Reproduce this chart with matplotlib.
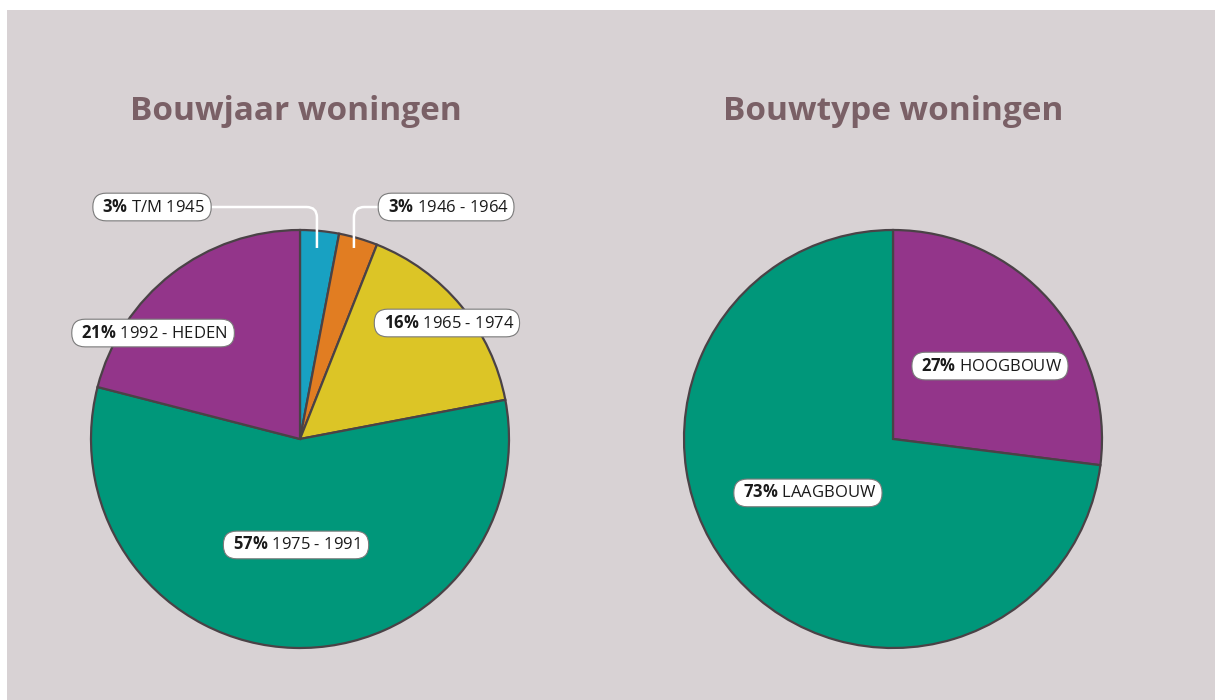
import matplotlib.pyplot as plt
from matplotlib.patches import Rectangle, PathPatch
from matplotlib.path import Path

plt.rcParams['font.family'] = ['Open Sans', 'DejaVu Sans']
plt.rcParams['mathtext.fontset'] = 'custom'
plt.rcParams['mathtext.rm'] = 'Open Sans'
plt.rcParams['mathtext.bf'] = 'Open Sans:bold'

# data
year_labels = ["T/M 1945", "1946 - 1964", "1965 - 1974", "1975 - 1991", "1992 - HEDEN"]
year_pct = [3, 3, 16, 57, 21]
type_labels = ["HOOGBOUW", "LAAGBOUW"]
type_pct = [27, 73]

year_colors = ["#18a1c2", "#e17d22", "#dcc526", "#00977a", "#93358a"]
type_colors = ["#93358a", "#00977a"]
bg = "#d8d2d4"
edge = "#4a4246"
title_color = "#7a6066"

fig = plt.figure(figsize=(12.15, 7), dpi=100)
fig.patch.set_facecolor("white")
fig.patches.append(Rectangle((7 / 1215, 0), 1, 690 / 700, transform=fig.transFigure,
                             facecolor=bg, edgecolor="none", zorder=-10))

R = 209


def pie_axes(cx, cy):
    ax = fig.add_axes([(cx - R) / 1215, (700 - cy - R) / 700, 2 * R / 1215, 2 * R / 700])
    ax.axis("off")
    return ax


def fix_limits(ax):
    ax.set_xlim(-1, 1)
    ax.set_ylim(-1, 1)
    ax.set_aspect("equal")


def label(ax, x, y, pct, text):
    ax.text(x, y, r" $\mathbf{%d\%%}$ %s " % (pct, text), ha="center", va="center",
            fontsize=12, color="#1a1a1a", zorder=10,
            bbox=dict(boxstyle="round,pad=0.32,rounding_size=0.8", fc="white",
                      ec="#7a7a7a", lw=0.8))


def leader(ax, x0, y0, x1, y1, r=0.05):
    # horizontal from (x0,y0) to x1, rounded corner, then down to y1
    sgn = 1 if x1 > x0 else -1
    verts = [(x0, y0), (x1 - sgn * r, y0), (x1, y0), (x1, y0 - r), (x1, y1)]
    codes = [Path.MOVETO, Path.LINETO, Path.CURVE3, Path.CURVE3, Path.LINETO]
    ax.add_patch(PathPatch(Path(verts, codes), fc="none", ec="white", lw=1.8,
                           zorder=5, clip_on=False))


# left pie
ax1 = pie_axes(300, 439)
ax1.pie(year_pct, colors=year_colors, startangle=90, counterclock=False, radius=1,
        wedgeprops=dict(edgecolor=edge, linewidth=1.6))
fix_limits(ax1)
pos1 = [(-0.708, 1.110), (0.699, 1.110), (0.703, 0.555), (-0.019, -0.507), (-0.703, 0.507)]
for (x, y), p, t in zip(pos1, year_pct, year_labels):
    label(ax1, x, y, p, t)
leader(ax1, -0.708, 1.110, 0.081, 0.914)
leader(ax1, 0.699, 1.110, 0.258, 0.914)

# right pie
ax2 = pie_axes(893, 439)
ax2.pie(type_pct, colors=type_colors, startangle=90, counterclock=False, radius=1,
        wedgeprops=dict(edgecolor=edge, linewidth=1.6))
fix_limits(ax2)
pos2 = [(0.464, 0.349), (-0.407, -0.258)]
for (x, y), p, t in zip(pos2, type_pct, type_labels):
    label(ax2, x, y, p, t)

fig.text(296 / 1215, 1 - 112 / 700, "Bouwjaar woningen", ha="center", va="center",
         fontsize=24, fontweight="bold", color=title_color)
fig.text(893 / 1215, 1 - 112 / 700, "Bouwtype woningen", ha="center", va="center",
         fontsize=24, fontweight="bold", color=title_color)

fig.savefig("out.png", dpi=100, facecolor=fig.get_facecolor())
